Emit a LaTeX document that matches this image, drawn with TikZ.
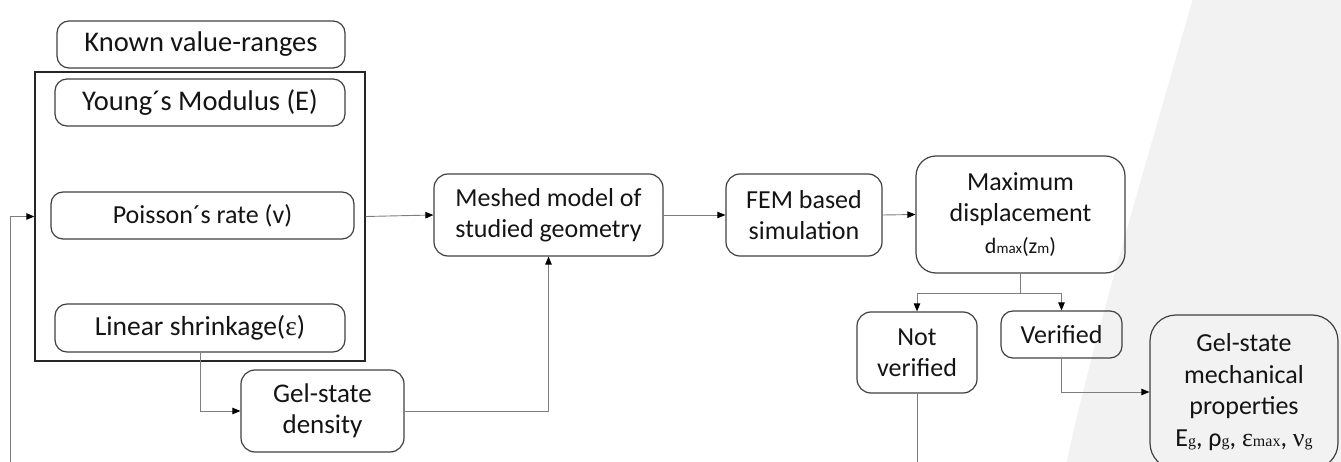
\documentclass[tikz,border=0pt]{standalone}
\usepackage{fontspec}
\setmainfont{Carlito}
\newfontfamily\tms{Liberation Serif}
\usetikzlibrary{arrows.meta, calc, positioning}
\definecolor{edgegray}{RGB}{64,64,64}
\definecolor{linegray}{RGB}{125,125,125}
\definecolor{bggray}{RGB}{242,242,242}
\newcommand{\subtxt}[1]{{\fontsize{15}{15}\selectfont #1}}
\newcommand{\subtms}[1]{{\tms\fontsize{16}{16}\selectfont #1}}

\begin{document}
\begin{tikzpicture}[x=1pt,y=1pt,yscale=-1,xscale=1,
	box/.style={draw=edgegray, line width=1.2pt, rounded corners=12pt, align=center, inner sep=0pt, text=black!92, font=\fontsize{26}{31.5}\selectfont},
	big/.style={font=\fontsize{28.5}{31.5}\selectfont},
	conn/.style={draw=linegray, line width=0.9pt},
	arr/.style={conn, -{Triangle[length=8pt,width=6.5pt,color=black]}}]
			\useasboundingbox (0,0) rectangle (1341,462);
			\clip (0,0) rectangle (1341,462);

			%Shape: background on the right
			\fill [bggray] (1193,-2) .. controls (1150,150) and (1090,350) .. (1066,465) -- (1345,465) -- (1345,-2) -- cycle ;

			%Shape: frame of the known ranges
			\node [draw=black!85, line width=1.3pt, minimum width=330pt, minimum height=289pt, inner sep=0pt] (frame) at (200,216.5) {};

			% Text Node
			\node [box, big, minimum width=288pt, minimum height=47pt] (known) at (201,44.5) {Known value-ranges};
			% Text Node
			\node [box, big, minimum width=290pt, minimum height=47pt] (young) at (200,102.5) {Young´s Modulus (E)};
			% Text Node
			\node [box, minimum width=303pt, minimum height=47pt] (poisson) at (202.5,215.5) {Poisson´s rate (v)};
			% Text Node
			\node [box, font=\fontsize{27.5}{31.5}\selectfont, minimum width=290pt, minimum height=48pt] (shrink) at (200,328) {Linear shrinkage({\tms ε})};
			% Text Node
			\node [box, font=\fontsize{27}{31.5}\selectfont, minimum width=163pt, minimum height=82pt, rounded corners=14pt] (density) at (322.5,411) {Gel-state\\density};
			% Text Node
			\node [box, minimum width=229pt, minimum height=82pt, rounded corners=14pt] (meshed) at (548.5,215) {Meshed model of\\studied geometry};
			% Text Node
			\node [box, minimum width=156pt, minimum height=82pt, rounded corners=14pt] (fem) at (804,215) {FEM based\\simulation};
			% Text Node
			\node [box, minimum width=209pt, minimum height=117pt, rounded corners=20pt] (maxdisp) at (1020.5,214.5) {Maximum\\displacement\\{\fontsize{22}{33}\selectfont d\subtxt{max}(z\subtxt{m})}};
			% Text Node
			\node [box, minimum width=120pt, minimum height=81pt, rounded corners=14pt] (notver) at (917,352.5) {Not\\verified};
			% Text Node
			\node [box, minimum width=121pt, minimum height=47pt] (verif) at (1061.5,334.5) {Verified};
			% Text Node
			\node [box, minimum width=188pt, minimum height=154pt, rounded corners=26pt] (gelmech) at (1244,392) {Gel-state\\mechanical\\properties\\E\subtms{g}, ρ\subtms{g}, {\tms ε}\subtms{max}, {\tms ν}\subtms{g}};

			%Straight Lines: feedback from below
			\coordinate (fbstart) at (10,470);
			\draw [arr] (fbstart) |- (frame.west) ;
			%Straight Lines
			\draw [arr] (frame.east) -- (meshed.west) ;
			%Straight Lines
			\draw [arr] (shrink.south) |- (density.west) ;
			%Straight Lines
			\draw [arr] (density.east) -| (meshed.south) ;
			%Straight Lines
			\draw [arr] (meshed.east) -- (fem.west) ;
			%Straight Lines
			\draw [arr] (fem.east) -- (maxdisp.west) ;
			%Straight Lines: split below the maximum displacement
			\coordinate (split) at ($(maxdisp.south)+(0,20)$);
			\draw [conn] (maxdisp.south) -- (split) ;
			\draw [arr] (split) -| (notver.north) ;
			\draw [arr] (split) -| (verif.north) ;
			%Straight Lines
			\draw [arr] (verif.south) |- (gelmech.west) ;
			%Straight Lines: leaves the picture at the bottom
			\coordinate (nvend) at (917,470);
			\draw [conn] (notver.south) -- (nvend) ;

		\end{tikzpicture}
\end{document}
